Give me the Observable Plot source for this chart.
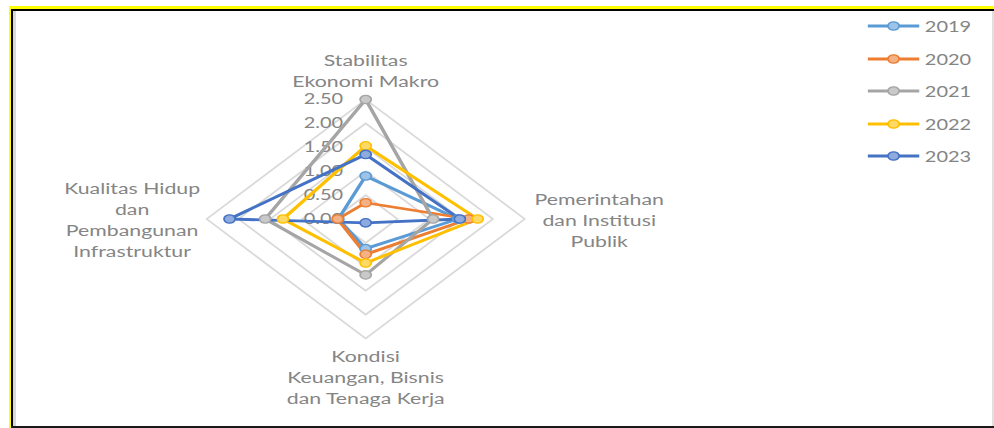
<!DOCTYPE html>
<html>
<head>
<meta charset="utf-8">
<script src="https://cdn.jsdelivr.net/npm/d3@7"></script>
<script src="https://cdn.jsdelivr.net/npm/@observablehq/plot@0.6"></script>
<style>
  html, body { margin: 0; padding: 0; background: #fff; }
  #page { position: relative; width: 994px; height: 428px; overflow: hidden; background: #fff; }
  #chart { position: absolute; left: 0; top: 0; width: 747px; height: 428px; transform: scaleX(1.3307); transform-origin: 0 0; font-family: Lato, sans-serif; }
  #legend { position: absolute; left: 652px; top: 10px; font-family: Lato, sans-serif; font-size: 15px; color: #858585; }
  .row { display: flex; align-items: center; height: 32.5px; }
  .row span { margin-left: 4px; }
  .bar { position: absolute; }
</style>
</head>
<body>
<div id="page">
  <div id="chart"><div id="legend"></div></div>
</div>
<script>
// ---- data ----
const categories = [
  "Stabilitas\nEkonomi Makro",
  "Pemerintahan\ndan Institusi\nPublik",
  "Kondisi\nKeuangan, Bisnis\ndan Tenaga Kerja",
  "Kualitas Hidup\ndan\nPembangunan\nInfrastruktur"
];
const years = ["2019", "2020", "2021", "2022", "2023"];
const v2019 = [0.90, 1.45, 0.62, 0.43];
const v2020 = [0.34, 1.62, 0.74, 0.44];
const v2021 = [2.50, 1.06, 1.17, 1.58];
const v2022 = [1.53, 1.76, 0.92, 1.30];
const v2023 = [1.35, 1.48, 0.08, 2.14];
const tickValues = [0, 0.5, 1, 1.5, 2, 2.5];
const tickLabels = ["0.00", "0.50", "1.00", "1.50", "2.00", "2.50"];
const seriesColors = ["#5b9bd5", "#ed7d31", "#a5a5a5", "#ffc000", "#4472c4"];
const markerFills = ["#9dc3e6", "#f4b183", "#c9c9c9", "#ffd966", "#8faadc"];

// ---- derived tables ----
const seriesValues = [v2019, v2020, v2021, v2022, v2023];
const angle = i => i * Math.PI / 2; // top, right, bottom, left
const px = (r, i) => r * Math.sin(angle(i));
const py = (r, i) => r * Math.cos(angle(i));

const points = [];
years.forEach((yr, s) => {
  seriesValues[s].forEach((v, i) => {
    points.push({year: yr, cat: i, value: v, x: px(v, i), y: py(v, i)});
  });
});
const gridPts = [];
tickValues.filter(t => t > 0).forEach(t => {
  categories.forEach((c, i) => gridPts.push({level: t, x: px(t, i), y: py(t, i)}));
});
const ticks = tickValues.map((t, k) => ({t, label: tickLabels[k]}));
const rMax = d3.max(tickValues);
const catPts = categories.map((c, i) => ({label: c, i, x: px(rMax, i), y: py(rMax, i)}));

const cx = 274.3, cy = 218.5, R = 119.5;
const txt = {fontFamily: "Lato, sans-serif", fill: "#858585", stroke: null};

const chart = Plot.plot({
  width: 747,
  height: 428,
  margin: 0,
  style: {background: "transparent", overflow: "visible"},
  x: {domain: [-rMax, rMax], range: [cx - R, cx + R], axis: null},
  y: {domain: [-rMax, rMax], range: [cy + R, cy - R], axis: null},
  color: {domain: years, range: seriesColors},
  marks: [
    Plot.line(gridPts, {x: "x", y: "y", z: "level", curve: "linear-closed", stroke: "#d9d9d9", strokeWidth: 1.6}),
    Plot.text(ticks, {x: () => 0, y: "t", text: "label", textAnchor: "end", dx: -17, fontSize: 15, ...txt}),
    Plot.text(catPts.filter(d => d.i === 0), {x: "x", y: "y", text: "label", lineAnchor: "bottom", dy: -13, fontSize: 16, lineHeight: 1.31, ...txt}),
    Plot.text(catPts.filter(d => d.i === 1), {x: "x", y: "y", text: "label", textAnchor: "middle", dx: 56, dy: 0, fontSize: 16, lineHeight: 1.31, ...txt}),
    Plot.text(catPts.filter(d => d.i === 2), {x: "x", y: "y", text: "label", lineAnchor: "top", dy: 9, fontSize: 16, lineHeight: 1.31, ...txt}),
    Plot.text(catPts.filter(d => d.i === 3), {x: "x", y: "y", text: "label", textAnchor: "middle", dx: -56, dy: 0, fontSize: 16, lineHeight: 1.31, ...txt}),
    ...years.map((yr, s) => Plot.line(points.filter(d => d.year === yr), {
      x: "x", y: "y", curve: "linear-closed", stroke: seriesColors[s], strokeWidth: 2.8, strokeLinejoin: "round"
    })),
    ...years.map((yr, s) => Plot.dot(points.filter(d => d.year === yr), {
      x: "x", y: "y", r: 4.2, fill: markerFills[s], stroke: seriesColors[s], strokeWidth: 1.3
    }))
  ]
});
document.getElementById("chart").prepend(chart);

// legend
const legend = document.getElementById("legend");
years.forEach((yr, s) => {
  const row = document.createElement("div");
  row.className = "row";
  row.innerHTML = `<svg width="39" height="12"><line x1="0" y1="6" x2="39" y2="6" stroke="${seriesColors[s]}" stroke-width="2.8"/><circle cx="19.5" cy="6" r="4.2" fill="${markerFills[s]}" stroke="${seriesColors[s]}" stroke-width="1.3"/></svg><span>${yr}</span>`;
  legend.appendChild(row);
});

// frame
const page = document.getElementById("page");
const bars = [
  [9, 6, 985, 3, "#ffff00"],
  [9, 6, 3, 422, "#ffff00"],
  [13, 11, 3, 415, "#d9d9d9"],
  [11, 9, 983, 2, "#000000"],
  [11, 9, 2, 419, "#000000"],
  [11, 426, 983, 2, "#1a1a1a"],
  [992, 11, 2, 415, "#e0e0e0"]
];
bars.forEach(([l, t, w, h, c]) => {
  const d = document.createElement("div");
  d.className = "bar";
  Object.assign(d.style, {left: l + "px", top: t + "px", width: w + "px", height: h + "px", background: c});
  page.appendChild(d);
});
</script>
</body>
</html>
